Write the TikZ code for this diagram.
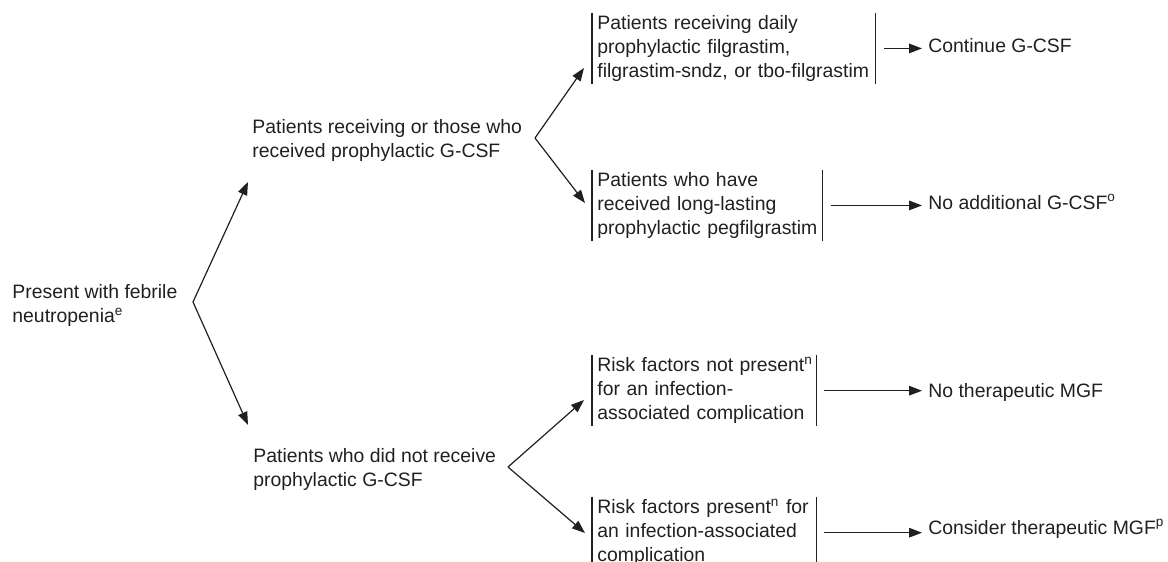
\documentclass[tikz,border=0pt]{standalone}
\usepackage{fontspec}
\setmainfont{Liberation Sans}
\usetikzlibrary{arrows.meta,calc}
\definecolor{ink}{RGB}{35,31,32}
\begin{document}
\begin{tikzpicture}[x=0.5pt,y=-0.5pt,
  every node/.style={font=\fontsize{9.7}{12}\selectfont, text=ink, inner sep=0pt, align=left, anchor=north west},
  line/.style={draw=ink, line width=0.6pt},
  arr/.style={line, -{Triangle[length=6.5pt,width=4.8pt]}},
  boxed/.style={inner xsep=2.5pt, inner ysep=1pt},
  outcome/.style={anchor=base west}
]
\useasboundingbox (0,0) rectangle (1168,562);
\clip (0,0) rectangle (1168,562);

% left-hand nodes
\node (a) at (12,284) {Present with febrile\\neutropenia\textsuperscript{e}};
\node (b) at (252,119) {Patients receiving or those who\\received prophylactic G-CSF};
\node (g) at (253,448) {Patients who did not receive\\prophylactic G-CSF};

% bracketed nodes
\node[boxed, text width=136.5pt] (c) at (592,13) {Patients receiving daily\\prophylactic filgrastim,\\filgrastim-sndz, or tbo-filgrastim};
\node[boxed, text width=110pt] (d) at (592,170) {Patients who have\\received long-lasting\\prophylactic pegfilgrastim};
\node[boxed, text width=107pt] (e) at (592,355) {\mbox{Risk factors not present\textsuperscript{n}}\\for an infection-\\associated complication};
\node[boxed, text width=107pt] (f) at (592,497) {\mbox{Risk factors present\textsuperscript{n} for}\\an infection-associated\\complication};

\foreach \n in {c,d,e,f}{
  \draw[line] (\n.north west) -- (\n.south west) (\n.north east) -- (\n.south east);
}

% outcomes
\node[outcome] (oc) at (928,52) {Continue G-CSF};
\node[outcome] (od) at (928,209) {No additional G-CSF\textsuperscript{o}};
\node[outcome] (oe) at (928,397) {No therapeutic MGF};
\node[outcome] (of) at (928,534) {Consider therapeutic MGF\textsuperscript{p}};

% fork points and arrow ends
\coordinate (fa) at (193,302);
\coordinate (tb) at (248,182);
\coordinate (tg) at (248,425);
\coordinate (fb) at (535,138);
\coordinate (tc) at (584,68);
\coordinate (td) at (585,203);
\coordinate (fg) at (508,467);
\coordinate (te) at (584,400);
\coordinate (tf) at (585,533);

\draw[arr] (fa) -- (tb);
\draw[arr] (fa) -- (tg);
\draw[arr] (fb) -- (tc);
\draw[arr] (fb) -- (td);
\draw[arr] (fg) -- (te);
\draw[arr] (fg) -- (tf);

\draw[arr, shorten >=3pt] ([xshift=4pt]c.east) -- (oc.base west |- c.east);
\draw[arr, shorten >=3pt] ([xshift=4pt]d.east) -- (od.base west |- d.east);
\draw[arr, shorten >=3pt] ([xshift=3.5pt]e.east) -- (oe.base west |- e.east);
\draw[arr, shorten >=3pt] ([xshift=3.5pt]f.east) -- (of.base west |- f.east);
\end{tikzpicture}
\end{document}
